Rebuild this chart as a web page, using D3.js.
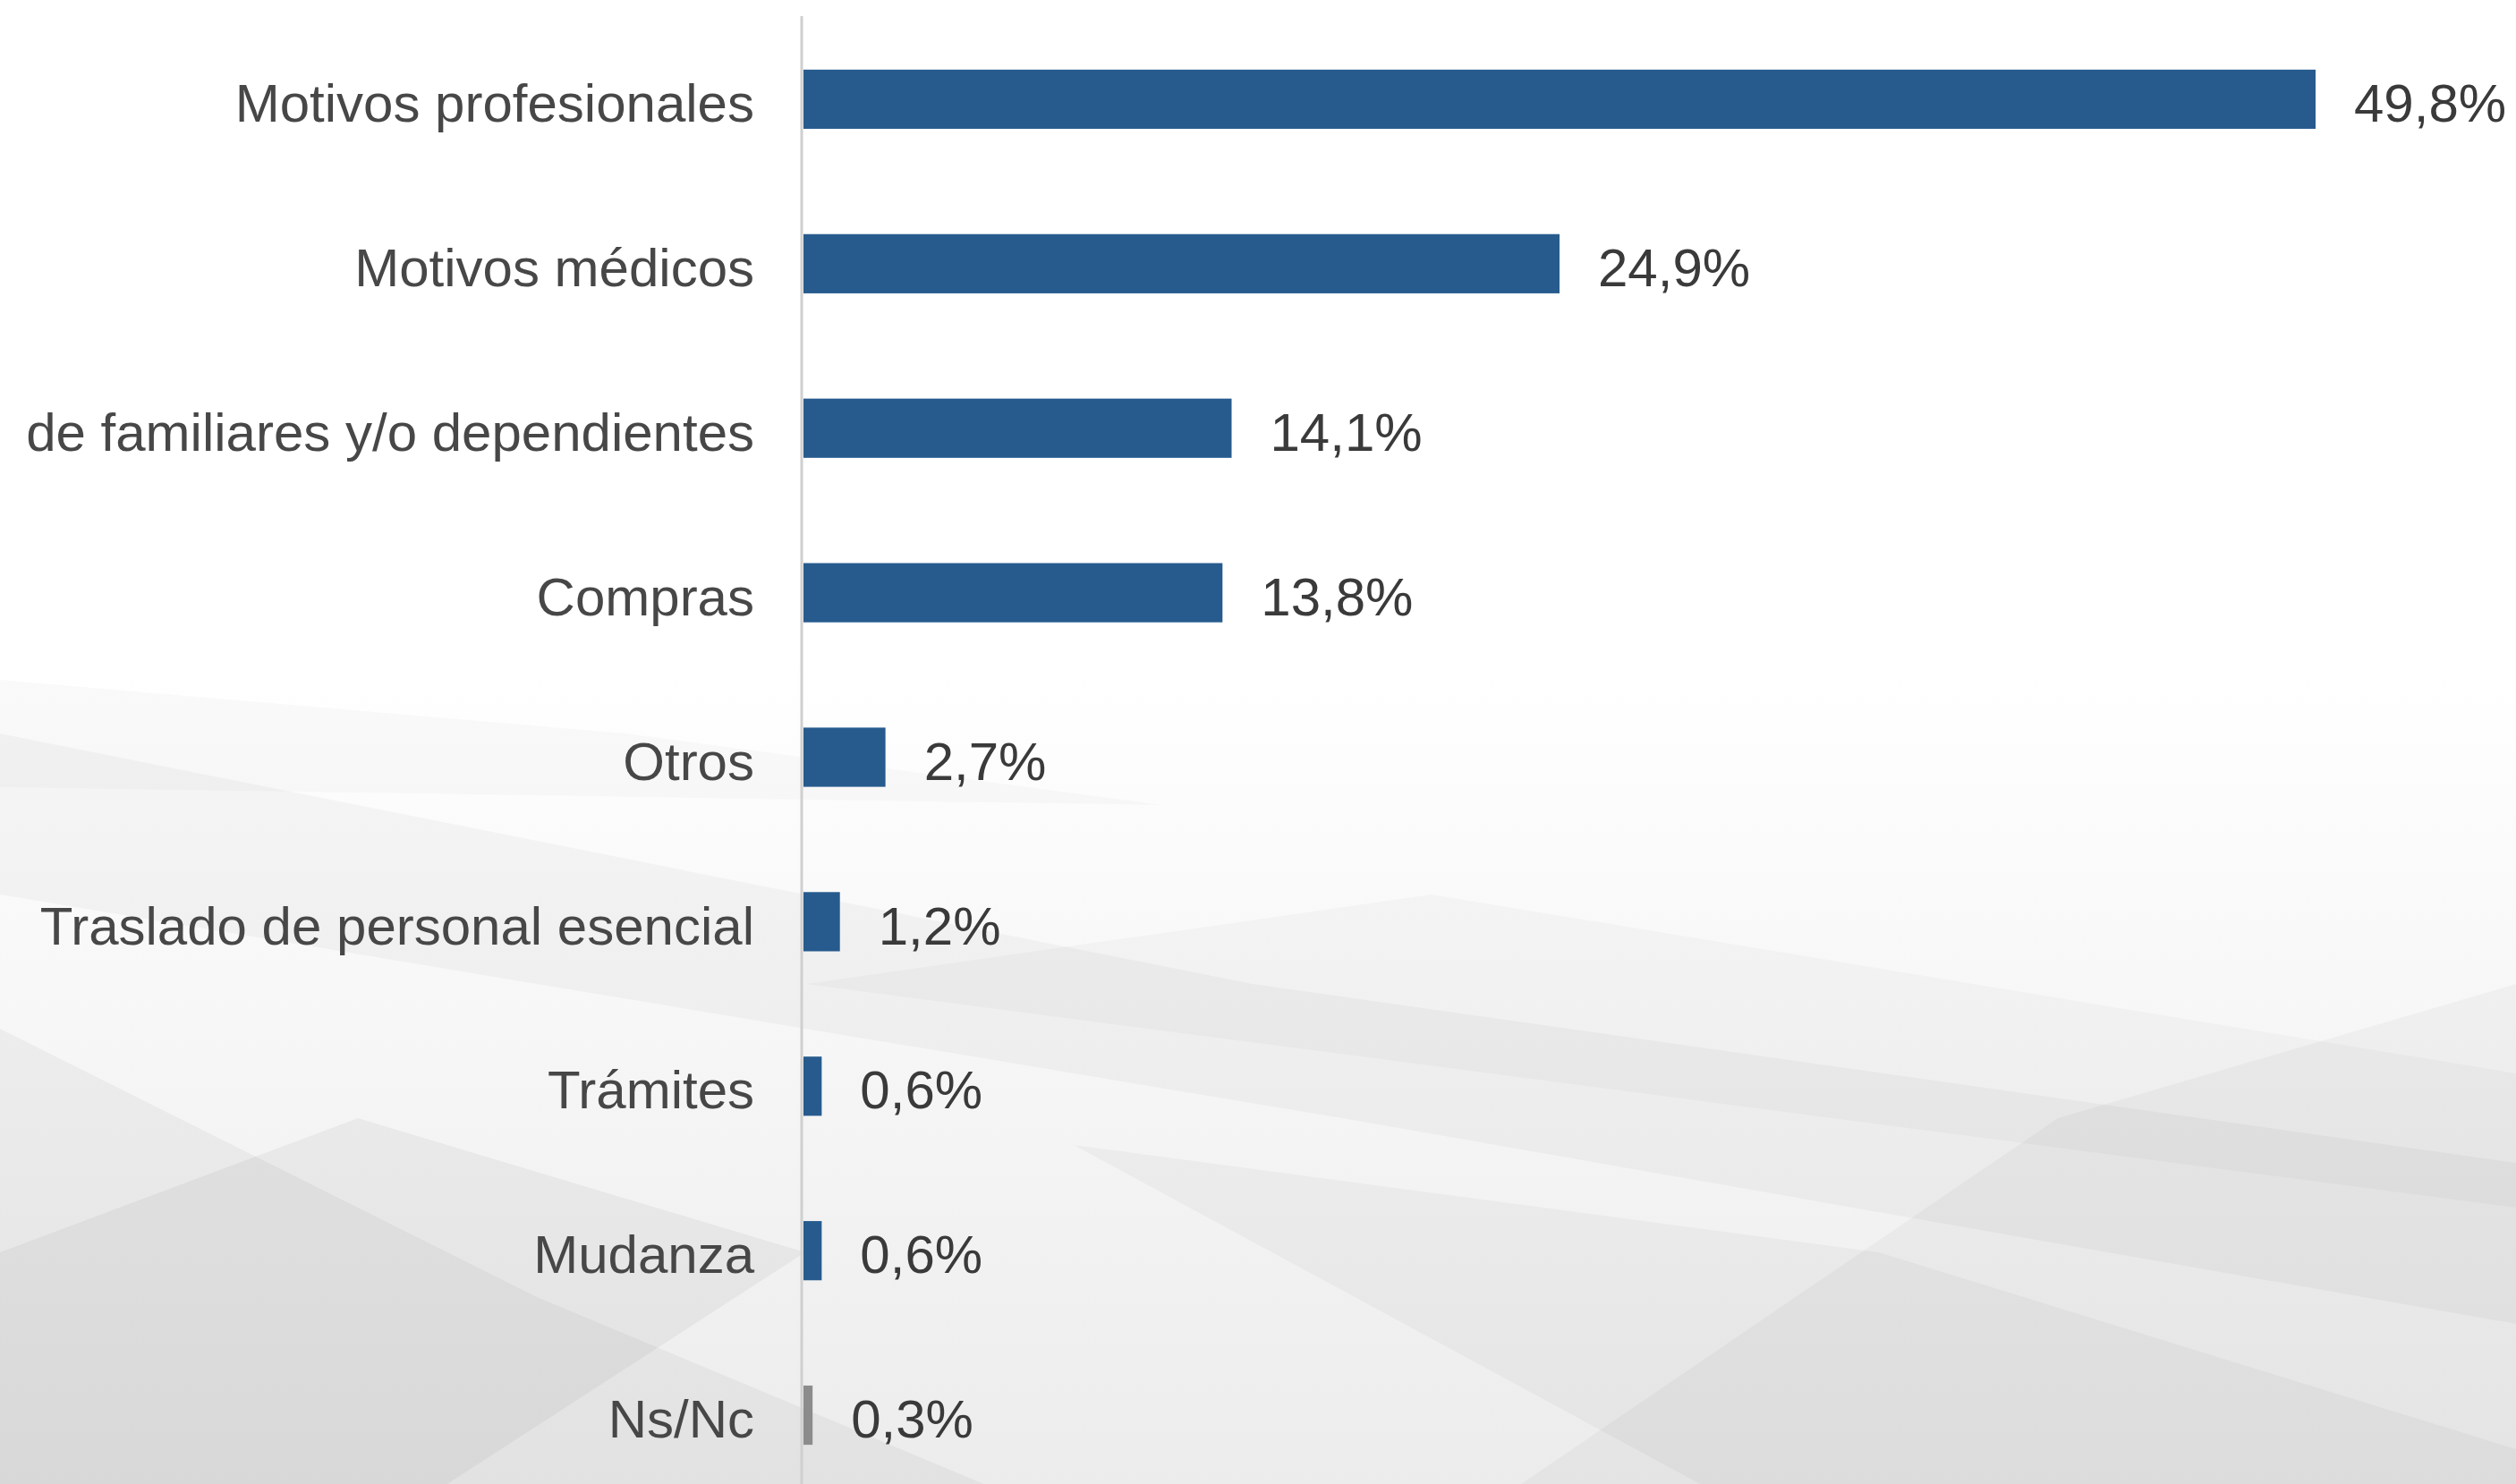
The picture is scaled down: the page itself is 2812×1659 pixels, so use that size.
<!DOCTYPE html>
<html>
<head>
<meta charset="utf-8">
<script src="https://cdn.jsdelivr.net/npm/d3@7"></script>
<style>
  html, body { margin: 0; padding: 0; background: #fff; }
  svg { display: block; }
</style>
</head>
<body>
<svg id="chart"></svg>
<script>
// Data
var categories = ['Motivos profesionales', 'Motivos médicos', 'de familiares y/o dependientes',
  'Compras', 'Otros', 'Traslado de personal esencial', 'Trámites', 'Mudanza', 'Ns/Nc'];
var values = [49.8, 24.9, 14.1, 13.8, 2.7, 1.2, 0.6, 0.6, 0.3];
var valueLabels = ['49,8%', '24,9%', '14,1%', '13,8%', '2,7%', '1,2%', '0,6%', '0,6%', '0,3%'];

var w = 2812, h = 1659;

var svg = d3.select('#chart')
  .attr('width', w)
  .attr('height', h);

// Background: white fading to a light grey geometric pattern
var defs = svg.append('defs');
var grad = defs.append('linearGradient')
  .attr('id', 'bg')
  .attr('x1', 0).attr('y1', 0).attr('x2', 0).attr('y2', 1);
grad.append('stop').attr('offset', '0%').attr('stop-color', '#ffffff');
grad.append('stop').attr('offset', '45%').attr('stop-color', '#ffffff');
grad.append('stop').attr('offset', '100%').attr('stop-color', '#ececec');

svg.append('rect')
  .attr('width', w).attr('height', h)
  .attr('fill', 'url(#bg)');

var shapes = [
  [[0, 820], [1400, 1100], [2812, 1300], [2812, 1480], [1500, 1250], [0, 1000]],
  [[0, 1150], [600, 1450], [1100, 1659], [0, 1659]],
  [[900, 1100], [2812, 1350], [2812, 1200], [1600, 1000]],
  [[1700, 1659], [2300, 1250], [2812, 1100], [2812, 1659]],
  [[0, 1400], [400, 1250], [900, 1400], [500, 1659], [0, 1659]],
  [[1200, 1280], [2100, 1400], [2812, 1620], [2812, 1659], [1900, 1659]],
  [[0, 760], [700, 820], [1300, 900], [0, 880]]
];
var shapeFills = [0.03, 0.04, 0.025, 0.03, 0.045, 0.03, 0.02];

svg.append('g')
  .selectAll('polygon')
  .data(shapes)
  .enter()
  .append('polygon')
  .attr('points', function(d){ return d.map(function(p){ return p.join(','); }).join(' '); })
  .attr('fill', function(d, i){ return 'rgba(0,0,0,' + shapeFills[i] + ')'; });

// Scales
var x = d3.scaleLinear()
  .domain([0, 49.8])
  .range([898, 2588]);

var y = d3.scaleBand()
  .domain(categories)
  .range([19, 1674])
  .paddingInner(0.64)
  .paddingOuter(0.32);

// Axis line
svg.append('line')
  .attr('x1', 896).attr('x2', 896)
  .attr('y1', 18).attr('y2', h)
  .attr('stroke', '#cfcfcf')
  .attr('stroke-width', 3);

// Bars
svg.append('g')
  .selectAll('rect')
  .data(values)
  .enter()
  .append('rect')
  .attr('x', x(0))
  .attr('y', function(d, i){ return y(categories[i]); })
  .attr('width', function(d){ return x(d) - x(0); })
  .attr('height', y.bandwidth())
  .attr('fill', function(d, i){ return categories[i] === 'Ns/Nc' ? '#8c8c8c' : '#275b8e'; });

// Category labels
svg.append('g')
  .selectAll('text')
  .data(categories)
  .enter()
  .append('text')
  .attr('x', 843)
  .attr('y', function(d){ return y(d) + y.bandwidth() / 2; })
  .attr('dy', '0.42em')
  .attr('text-anchor', 'end')
  .attr('font-family', '"Liberation Sans", Arial, sans-serif')
  .attr('font-size', 60)
  .attr('fill', '#474747')
  .text(function(d){ return d; });

// Value labels
svg.append('g')
  .selectAll('text')
  .data(values)
  .enter()
  .append('text')
  .attr('x', function(d){ return x(d) + 43; })
  .attr('y', function(d, i){ return y(categories[i]) + y.bandwidth() / 2; })
  .attr('dy', '0.42em')
  .attr('font-family', '"Liberation Sans", Arial, sans-serif')
  .attr('font-size', 60)
  .attr('fill', '#3a3a3a')
  .text(function(d, i){ return valueLabels[i]; });
</script>
</body>
</html>
